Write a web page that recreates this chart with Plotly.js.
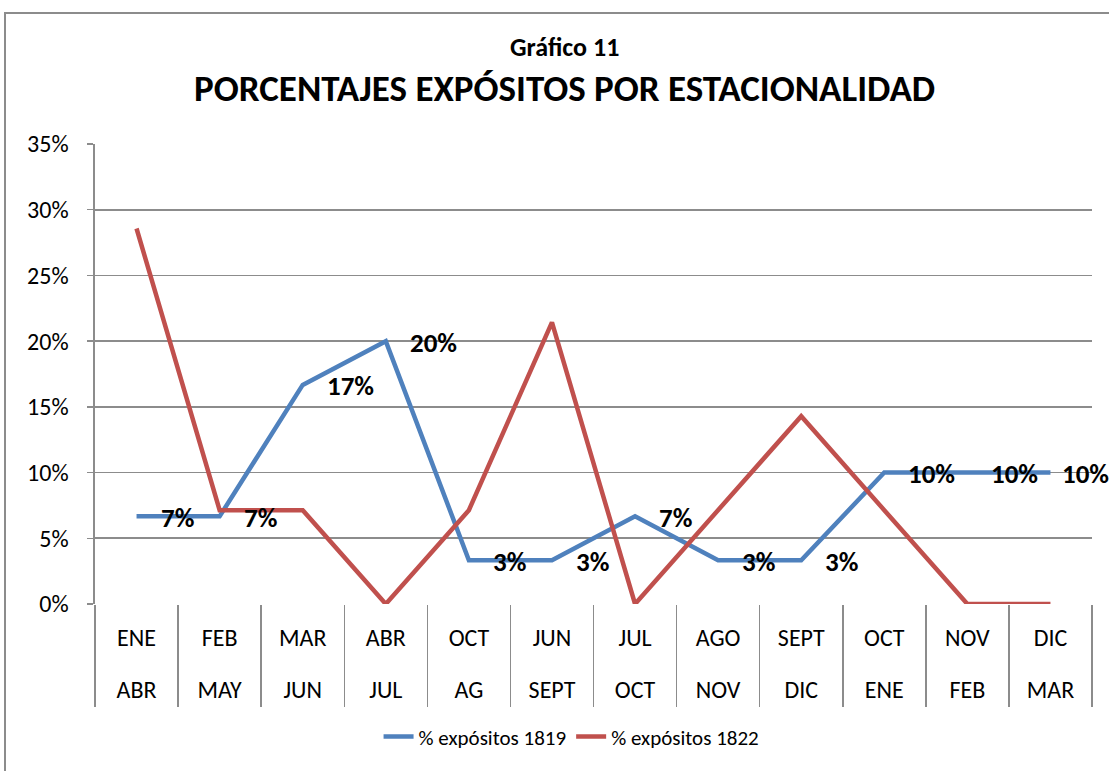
<!DOCTYPE html>
<html>
<head>
<meta charset="utf-8">
<script src="https://cdn.plot.ly/plotly-3.0.1.min.js"></script>
<style>
html,body{margin:0;padding:0;background:#fff;overflow:hidden;}
#frame{position:absolute;left:4px;top:12px;width:1200px;height:900px;border:2px solid #8c8c8c;box-sizing:border-box;}
#chart{position:absolute;left:0;top:0;width:1109px;height:771px;}
</style>
</head>
<body>
<div id="frame"></div>
<div id="chart"></div>
<script>
var topLabels = ["ENE","FEB","MAR","ABR","OCT","JUN","JUL","AGO","SEPT","OCT","NOV","DIC"];
var bottomLabels = ["ABR","MAY","JUN","JUL","AG","SEPT","OCT","NOV","DIC","ENE","FEB","MAR"];
var expositos1819 = [0.0667,0.0667,0.1667,0.20,0.0333,0.0333,0.0667,0.0333,0.0333,0.10,0.10,0.10];
var expositos1822 = [0.2857,0.0714,0.0714,0.0,0.0714,0.2143,0.0,0.0714,0.1429,0.0714,0.0,0.0];
var labels1819 = ["7%","7%","17%","20%","3%","3%","7%","3%","3%","10%","10%","10%"];
var subTitle = "Gráfico 11";
var mainTitle = "PORCENTAJES EXPÓSITOS POR ESTACIONALIDAD";

var FONT = "Carlito, 'Liberation Sans Narrow', 'DejaVu Sans Condensed', 'Liberation Sans', sans-serif";
var big = function(s){ return '<span style="font-size:24px">' + s + '</span>'; };
var cats = topLabels.map(function(t,i){return big(t) + "<br><br>" + big(bottomLabels[i]);});

var traces = [
  {x: cats, y: expositos1819, type:"scatter", mode:"lines", name:"% expósitos 1819",
   line:{color:"#4F81BD", width:4.5}, hoverinfo:"skip"},
  {x: cats, y: expositos1822, type:"scatter", mode:"lines", name:"% expósitos 1822",
   line:{color:"#C0504D", width:4.5}, hoverinfo:"skip"}
];

var annotations = labels1819.map(function(t,i){
  return {x: cats[i], y: expositos1819[i], xref:"x", yref:"y", text:"<b>"+t+"</b>",
    showarrow:false, xanchor:"left", yanchor:"middle",
    xshift: (i === labels1819.length-1) ? 10 : 22, yshift:-1,
    font:{family:FONT, size:27, color:"#000"}};
});
annotations.push({xref:"paper", yref:"paper", x:0.4714, y:1.211, xanchor:"center", yanchor:"middle",
  showarrow:false, text:"<b>"+subTitle+"</b>", font:{family:FONT, size:26, color:"#000"}});
annotations.push({xref:"paper", yref:"paper", x:0.4714, y:1.12, xanchor:"center", yanchor:"middle",
  showarrow:false, text:"<b>"+mainTitle+"</b>", font:{family:FONT, size:37, color:"#000"}});

var layout = {
  width:1109, height:771,
  paper_bgcolor:"rgba(0,0,0,0)", plot_bgcolor:"rgba(0,0,0,0)",
  margin:{l:95, r:17, t:144, b:167},
  showlegend:true,
  legend:{orientation:"h", x:0.478, xanchor:"center", y:-0.289, yanchor:"middle",
    font:{family:FONT, size:21, color:"#000"}, bgcolor:"rgba(0,0,0,0)"},
  xaxis:{
    type:"category", range:[-0.5,11.5], showgrid:false, showline:false, zeroline:false,
    ticks:"outside", tickson:"boundaries", ticklen:102, tickcolor:"#8c8c8c", tickwidth:1.5,
    ticklabelstandoff:21,
    tickfont:{family:FONT, size:20, color:"#000"}, fixedrange:true
  },
  yaxis:{
    range:[0,0.35], dtick:0.05, tickformat:".0%", showgrid:true, gridcolor:"#8c8c8c", gridwidth:1.6,
    showline:true, linecolor:"#8c8c8c", linewidth:1.6, zeroline:false,
    ticks:"outside", ticklen:6, tickcolor:"#8c8c8c", tickwidth:1.5, ticklabelstandoff:14,
    tickfont:{family:FONT, size:24, color:"#000"}, fixedrange:true
  },
  annotations: annotations
};

Plotly.newPlot("chart", traces, layout, {staticPlot:true});
</script>
</body>
</html>
